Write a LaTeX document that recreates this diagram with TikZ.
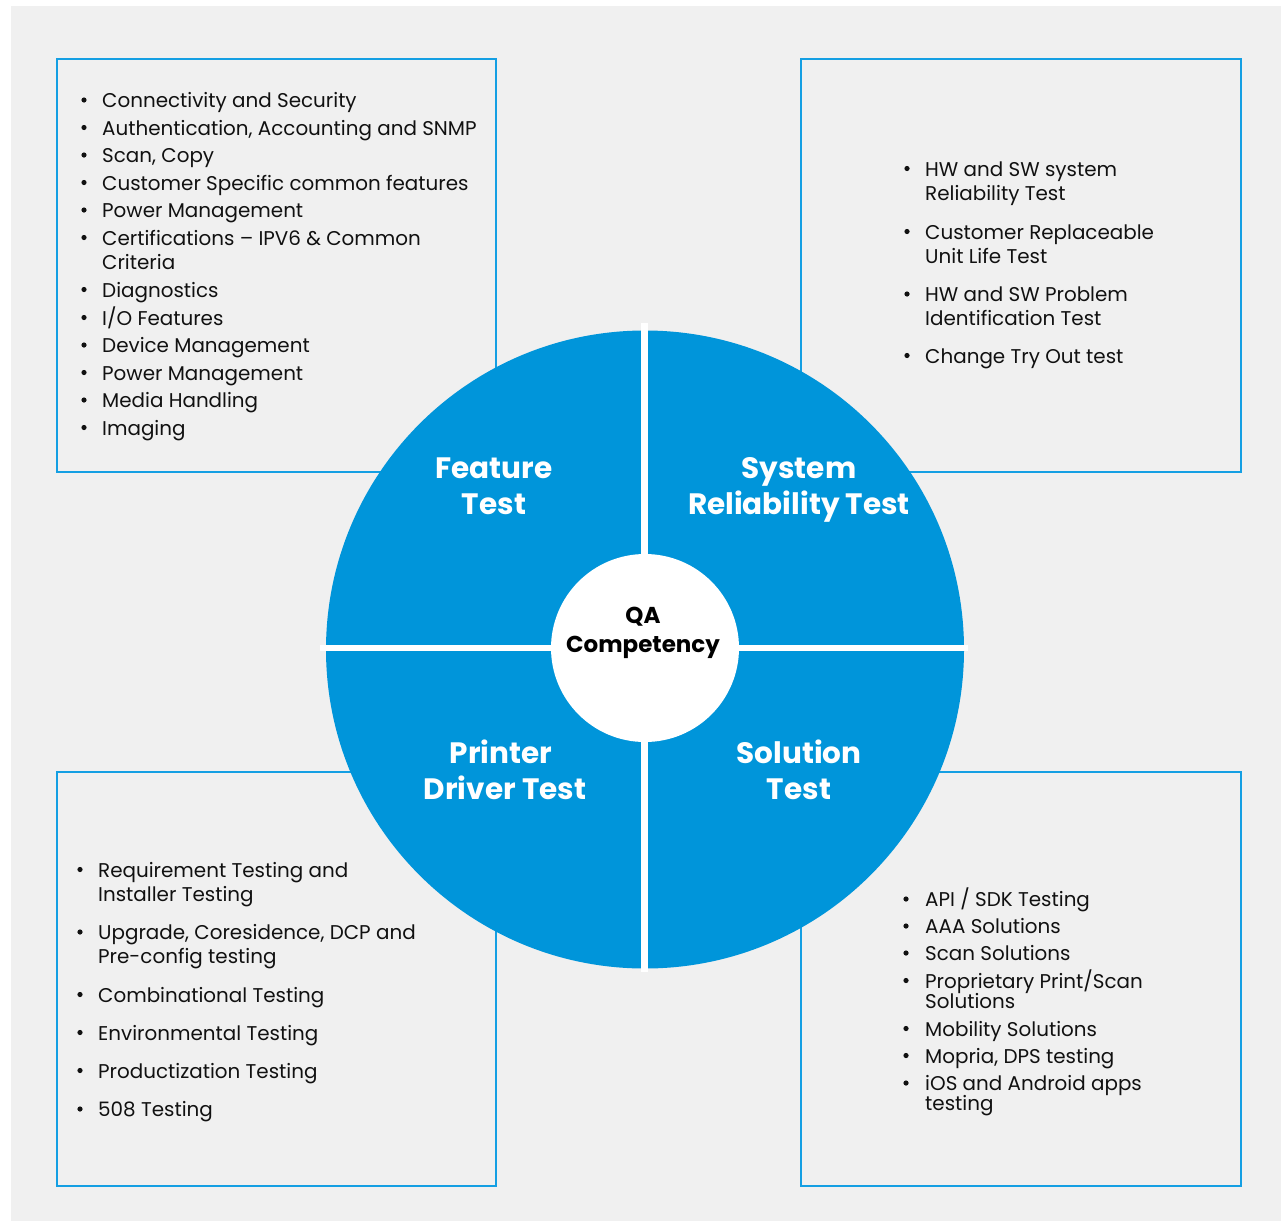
\documentclass[tikz,border=0pt]{standalone}
\usepackage{fontspec}
\setmainfont{Poppins}
\definecolor{bg}{HTML}{F0F0F0}
\definecolor{wheelblue}{HTML}{0095DA}
\definecolor{frameblue}{HTML}{149FE3}
\definecolor{txt}{HTML}{111111}
\tikzset{
  item/.style={anchor=base west, inner sep=0pt, text=txt, font=\fontsize{19.9}{22}\selectfont},
  frame/.style={draw=frameblue, line width=2pt},
  head/.style={anchor=base, inner sep=0pt, text=white, font=\fontsize{29.5}{32}\selectfont\bfseries},
  core/.style={anchor=base, inner sep=0pt, text=black, font=\fontsize{23}{26}\selectfont\bfseries},
}
\newcommand\bitem[5]{%
  \fill[txt] (#2,#4-7.5) circle (2.6pt);
  \node[item] (#1) at (#3,#4) {#5};}
\newcommand\citem[4]{\node[item] (#1) at (#2,#3) {#4};}
\begin{document}
\begin{tikzpicture}[x=1pt,y=-1pt]
\useasboundingbox (0,0) rectangle (1281,1221);
\fill[white] (0,0) rectangle (1281,1221);
\fill[bg] (11,6) rectangle (1281,1221);
% frames
\draw[frame] (57,59) rectangle (496,472);
\draw[frame] (801,59) rectangle (1241,472);
\draw[frame] (57,772) rectangle (496,1186);
\draw[frame] (801,772) rectangle (1241,1186);
% top-left list
\bitem{a1}{84}{102}{107.5}{Connectivity and Security}
\bitem{a2}{84}{102}{135}{Authentication, Accounting and SNMP}
\bitem{a3}{84}{102}{162.5}{Scan, Copy}
\bitem{a4}{84}{102}{190}{Customer Specific common features}
\bitem{a5}{84}{102}{217.5}{Power Management}
\bitem{a6}{84}{102}{245}{Certifications – IPV6 \& Common}
\citem{a6b}{102}{269}{Criteria}
\bitem{a7}{84}{102}{297}{Diagnostics}
\bitem{a8}{84}{102}{325}{I/O Features}
\bitem{a9}{84}{102}{352.5}{Device Management}
\bitem{a10}{84}{102}{380}{Power Management}
\bitem{a11}{84}{102}{407.5}{Media Handling}
\bitem{a12}{84}{102}{435}{Imaging}
% top-right list
\bitem{b1}{907}{925}{176}{HW and SW system}
\citem{b1b}{925}{200}{Reliability Test}
\bitem{b2}{907}{925}{239}{Customer Replaceable}
\citem{b2b}{925}{263}{Unit Life Test}
\bitem{b3}{907}{925}{301.5}{HW and SW Problem}
\citem{b3b}{925}{325}{Identification Test}
\bitem{b4}{907}{925}{363}{Change Try Out test}
% bottom-left list
\bitem{c1}{80}{98}{877}{Requirement Testing and}
\citem{c1b}{98}{901.5}{Installer Testing}
\bitem{c2}{80}{98}{939.5}{Upgrade, Coresidence, DCP and}
\citem{c2b}{98}{963.5}{Pre-config testing}
\bitem{c3}{80}{98}{1002}{Combinational Testing}
\bitem{c4}{80}{98}{1040}{Environmental Testing}
\bitem{c5}{80}{98}{1078}{Productization Testing}
\bitem{c6}{80}{98}{1116.5}{508 Testing}
% bottom-right list
\bitem{d1}{906}{925}{906.5}{API / SDK Testing}
\bitem{d2}{906}{925}{933.5}{AAA Solutions}
\bitem{d3}{906}{925}{960.5}{Scan Solutions}
\bitem{d4}{906}{925}{988}{Proprietary Print/Scan}
\citem{d4b}{925}{1008}{Solutions}
\bitem{d5}{906}{925}{1036}{Mobility Solutions}
\bitem{d6}{906}{925}{1063}{Mopria, DPS testing}
\bitem{d7}{906}{925}{1090.5}{iOS and Android apps}
\citem{d7b}{925}{1110}{testing}
% wheel
\node[circle, fill=wheelblue, minimum size=638pt, inner sep=0pt] (wheel) at (645,649.5) {};
\fill[white] (641,323) rectangle (648,972);
\fill[white] (320,645) rectangle (968,651);
\node[circle, fill=white, minimum size=188pt, inner sep=0pt] (hub) at (645,648) {};
% headings
\node[head] (f1) at (494,478) {Feature};
\node[head] (f2) at (494,514) {Test};
\node[head] (s1) at (799,478) {System};
\node[head] (s2) at (799,514) {Reliability Test};
\node[head] (p1) at (501,763) {Printer};
\node[head] (p2) at (505,799) {Driver Test};
\node[head] (o1) at (799,763) {Solution};
\node[head] (o2) at (799,799) {Test};
\node[core] (q1) at (643,623.5) {QA};
\node[core] (q2) at (643,652) {Competency};
\end{tikzpicture}
\end{document}
